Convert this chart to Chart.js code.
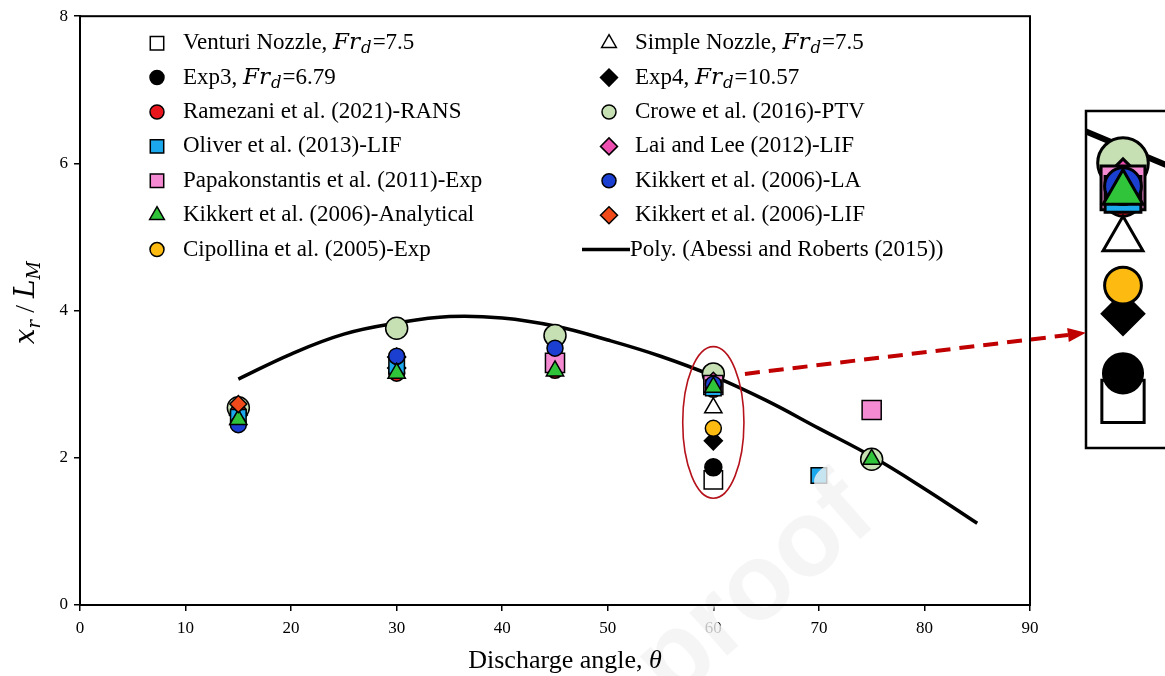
<!DOCTYPE html>
<html>
<head>
<meta charset="utf-8">
<script src="https://cdn.jsdelivr.net/npm/chart.js@4.4.1/dist/chart.umd.min.js"></script>
<style>
  html, body { margin: 0; padding: 0; background: #fff; }
  #caja { width: 1165px; height: 676px; position: relative; }
</style>
</head>
<body>
<div id="caja"><canvas id="grafica" width="1165" height="676"></canvas></div>
<script>
// valores
const xTicks = [0, 10, 20, 30, 40, 50, 60, 70, 80, 90]
const yTicks = [0, 2, 4, 6, 8]

const venturiX = [60], venturiY = [1.70]
const simpleX = [60], simpleY = [2.68]
const exp3X = [60], exp3Y = [1.87]
const exp4X = [30, 60], exp4Y = [3.37, 2.23]
const ramezaniX = [15, 30, 45, 60], ramezaniY = [2.62, 3.15, 3.19, 2.93]
const croweX = [15, 30, 45, 60, 75], croweY = [2.68, 3.76, 3.66, 3.14, 1.98]
const oliverX = [15, 30, 60, 70], oliverY = [2.55, 3.25, 2.95, 1.76]
const laiX = [15, 30, 60], laiY = [2.58, 3.22, 3.04]
const papaX = [45, 60, 75], papaY = [3.29, 2.99, 2.65]
const kikLaX = [15, 30, 45, 60], kikLaY = [2.45, 3.38, 3.49, 3.00]
const kikAnX = [15, 30, 45, 60, 75], kikAnY = [2.52, 3.15, 3.18, 2.96, 1.98]
const kikLifX = [15], kikLifY = [2.73]
const cipoX = [60], cipoY = [2.40]
const polyX = [15, 20, 25, 30, 35, 40, 45, 50, 55, 60, 65, 70, 75, 80, 85]
const polyY = [3.07, 3.41, 3.68, 3.83, 3.92, 3.90, 3.79, 3.60, 3.38, 3.11, 2.78, 2.40, 2.02, 1.58, 1.11]

const etiquetas = [
    "Venturi Nozzle, Fr_d=7.5",
    "Simple Nozzle, Fr_d=7.5",
    "Exp3, Fr_d=6.79",
    "Exp4, Fr_d=10.57",
    "Ramezani et al. (2021)-RANS",
    "Crowe et al. (2016)-PTV",
    "Oliver et al. (2013)-LIF",
    "Lai and Lee (2012)-LIF",
    "Papakonstantis et al. (2011)-Exp",
    "Kikkert et al. (2006)-LA",
    "Kikkert et al. (2006)-Analytical",
    "Kikkert et al. (2006)-LIF",
    "Cipollina et al. (2005)-Exp",
    "Poly. (Abessi and Roberts (2015))"
]

const puntos = (xs, ys) => xs.map((x, i) => ({ x: x, y: ys[i] }))

const serie = (i, xs, ys, estilo, radio, color, orden) => ({
    label: etiquetas[i],
    data: puntos(xs, ys),
    showLine: false,
    pointStyle: estilo,
    pointRadius: radio,
    pointHoverRadius: radio,
    pointBackgroundColor: color,
    pointBorderColor: "#000",
    pointBorderWidth: 1.5,
    order: orden,
    legRadio: estilo == "rect" ? 9.5 : estilo == "circle" ? 7 : 8.5
})

const datasets = [
    serie(0, venturiX, venturiY, "rect", 13, "#ffffff", 2),
    serie(1, simpleX, simpleY, "triangle", 10, "#ffffff", 6),
    serie(2, exp3X, exp3Y, "circle", 8.5, "#000000", 1),
    serie(3, exp4X, exp4Y, "rectRot", 9, "#000000", 8),
    serie(4, ramezaniX, ramezaniY, "circle", 8, "#e8161c", 12),
    serie(5, croweX, croweY, "circle", 11, "#c6e0b4", 13),
    serie(6, oliverX, oliverY, "rect", 11, "#1ca8ec", 9),
    serie(7, laiX, laiY, "rectRot", 9, "#ec4fb0", 11),
    serie(8, papaX, papaY, "rect", 13.5, "#f48ad2", 10),
    serie(9, kikLaX, kikLaY, "circle", 8, "#1b3fd0", 7),
    serie(10, kikAnX, kikAnY, "triangle", 10, "#2fc43a", 5),
    serie(11, kikLifX, kikLifY, "rectRot", 8.5, "#f04a1a", 4),
    serie(12, cipoX, cipoY, "circle", 8, "#fdbb12", 3),
    {
        label: etiquetas[13],
        data: puntos(polyX, polyY),
        showLine: true,
        borderColor: "#000",
        borderWidth: 3.5,
        pointRadius: 0,
        tension: 0.4,
        fill: false,
        order: 14
    }
]

const marca = (ctx, estilo, x, y, r) => {
    ctx.beginPath()
    if (estilo == "circle") {
        ctx.arc(x, y, r, 0, Math.PI * 2)
    } else if (estilo == "rect") {
        const s = r * Math.SQRT1_2
        ctx.rect(x - s, y - s, 2 * s, 2 * s)
    } else if (estilo == "rectRot") {
        ctx.moveTo(x, y - r); ctx.lineTo(x + r, y); ctx.lineTo(x, y + r); ctx.lineTo(x - r, y); ctx.closePath()
    } else {
        const w = r * Math.sin(2 * Math.PI / 3)
        ctx.moveTo(x, y - r); ctx.lineTo(x + w, y + r / 2); ctx.lineTo(x - w, y + r / 2); ctx.closePath()
    }
    ctx.fill()
    ctx.stroke()
}

// texto con Fr_d en cursiva y subindice
const textoRico = (ctx, texto, x, y, tam) => {
    ctx.textBaseline = "middle"
    ctx.textAlign = "left"
    const normal = `${tam}px "Liberation Serif"`
    const partes = texto.split("Fr_d")
    ctx.font = normal
    ctx.fillText(partes[0], x, y)
    if (partes.length < 2) return
    x += ctx.measureText(partes[0]).width
    ctx.font = `italic ${tam}px "DejaVu Serif"`
    ctx.fillText("Fr", x, y)
    x += ctx.measureText("Fr").width + 1
    ctx.font = `italic ${tam * 0.72}px "DejaVu Serif"`
    ctx.fillText("d", x, y + 6)
    x += ctx.measureText("d").width + 1
    ctx.font = normal
    ctx.fillText(partes[1], x, y)
}

const decorado = {
    id: "decorado",
    afterDraw(chart) {
        const ctx = chart.ctx
        const a = chart.chartArea
        const sx = chart.scales.x
        const sy = chart.scales.y
        ctx.save()

        // marca de agua
        ctx.save()
        ctx.translate(672, 704)
        ctx.rotate(-0.72)
        ctx.font = 'bold 108px "Liberation Sans"'
        ctx.fillStyle = "rgba(243,243,243,0.8)"
        ctx.fillText("proof", 0, 0)
        ctx.restore()

        // marco
        ctx.strokeStyle = "#000"
        ctx.lineWidth = 2
        ctx.strokeRect(a.left, a.top, a.right - a.left, a.bottom - a.top)

        // leyenda en dos columnas
        const colX = [a.left + 77, a.left + 529]
        datasets.forEach((d, i) => {
            const cx = colX[i % 2]
            const cy = a.top + 27 + Math.floor(i / 2) * 34.4
            ctx.fillStyle = "#000"
            if (d.showLine) {
                ctx.lineWidth = 3.5
                ctx.beginPath(); ctx.moveTo(cx - 27, cy); ctx.lineTo(cx + 21, cy); ctx.stroke()
                textoRico(ctx, d.label, cx + 21, cy, 23)
            } else {
                ctx.fillStyle = d.pointBackgroundColor
                ctx.lineWidth = 1.5
                marca(ctx, d.pointStyle, cx, cy, d.legRadio)
                ctx.fillStyle = "#000"
                textoRico(ctx, d.label, cx + 26, cy, 23)
            }
        })

        // elipse en 60 grados
        const ex = sx.getPixelForValue(60)
        const ey = sy.getPixelForValue(2.48)
        const rx = sx.getPixelForValue(62.9) - ex
        const ry = sy.getPixelForValue(1.45) - ey
        ctx.strokeStyle = "#b5121b"
        ctx.lineWidth = 1.6
        ctx.beginPath(); ctx.ellipse(ex, ey, rx, ry, 0, 0, Math.PI * 2); ctx.stroke()

        // recuadro ampliado
        const bx = a.right + 56, by = 111, bw = 100, bh = 337
        ctx.save()
        ctx.beginPath(); ctx.rect(bx, by, bw, bh); ctx.clip()
        const k = 2.25
        const ix = v => bx + 37 + (sx.getPixelForValue(v) - ex) * k
        const iy = v => by + 167 + (sy.getPixelForValue(v) - 425) * k
        ctx.strokeStyle = "#000"
        ctx.lineWidth = 6
        ctx.beginPath(); ctx.moveTo(ix(55), iy(3.38) - 26); ctx.lineTo(ix(65), iy(2.78) - 26); ctx.stroke()
        const capas = datasets.filter(d => !d.showLine).slice().sort((p, q) => q.order - p.order)
        ctx.lineWidth = 3
        capas.forEach(d => {
            d.data.filter(p => p.x == 60).forEach(p => {
                ctx.fillStyle = d.pointBackgroundColor
                marca(ctx, d.pointStyle, ix(60), iy(p.y), d.pointRadius * 2.3)
            })
        })
        ctx.restore()
        ctx.strokeStyle = "#000"
        ctx.lineWidth = 2.5
        ctx.strokeRect(bx, by, bw, bh)

        // flecha discontinua
        const x0 = ex + rx + 1, y0 = sy.getPixelForValue(3.14)
        const x1 = bx - 18, y1 = 335
        ctx.strokeStyle = "#c00000"
        ctx.fillStyle = "#c00000"
        ctx.lineWidth = 4
        ctx.setLineDash([15, 9])
        ctx.beginPath(); ctx.moveTo(x0, y0); ctx.lineTo(x1, y1); ctx.stroke()
        ctx.setLineDash([])
        const ang = Math.atan2(y1 - y0, x1 - x0)
        ctx.save()
        ctx.translate(x1, y1); ctx.rotate(ang)
        ctx.beginPath(); ctx.moveTo(18, 0); ctx.lineTo(0, -7); ctx.lineTo(0, 7); ctx.closePath(); ctx.fill()
        ctx.restore()

        // titulos de ejes
        ctx.fillStyle = "#000"
        ctx.textBaseline = "alphabetic"
        ctx.textAlign = "left"
        const t1 = "Discharge angle, "
        ctx.font = 'italic 26px "Liberation Serif"'
        const wTheta = ctx.measureText("θ").width
        ctx.font = '26px "Liberation Serif"'
        const w1 = ctx.measureText(t1).width
        let tx = 565 - (w1 + wTheta) / 2
        ctx.fillText(t1, tx, 668)
        ctx.font = 'italic 26px "Liberation Serif"'
        ctx.fillText("θ", tx + w1, 668)

        ctx.save()
        ctx.translate(34, (a.top + a.bottom) / 2 - 8)
        ctx.rotate(-Math.PI / 2)
        const trozos = [
            ["x", 'italic 28px "DejaVu Serif"', 0],
            ["r", 'italic 18px "DejaVu Serif"', 6],
            [" / ", '28px "Liberation Serif"', 0],
            ["L", 'italic 28px "DejaVu Serif"', 0],
            ["M", 'italic 18px "DejaVu Serif"', 6]
        ]
        let total = 0
        trozos.forEach(t => { ctx.font = t[1]; total += ctx.measureText(t[0]).width })
        let px = -total / 2
        trozos.forEach(t => {
            ctx.font = t[1]
            ctx.fillText(t[0], px, t[2])
            px += ctx.measureText(t[0]).width
        })
        ctx.restore()

        ctx.restore()
    }
}

const fuente = { family: "Liberation Serif", size: 17 }

const grafico = new Chart(document.querySelector("#grafica"), {
    type: "scatter",
    data: { datasets: datasets },
    options: {
        responsive: false,
        animation: false,
        layout: { padding: { top: 14, right: 135, left: 0, bottom: 0 } },
        plugins: { legend: { display: false }, tooltip: { enabled: false } },
        scales: {
            x: {
                type: "linear", min: 0, max: 90,
                afterBuildTicks: s => { s.ticks = xTicks.map(v => ({ value: v })) },
                afterFit: s => { s.height = 71 },
                ticks: { color: "#000", font: fuente, padding: 7 },
                grid: { drawOnChartArea: false, drawTicks: true, tickLength: 6, color: "#000", lineWidth: 1.5 },
                border: { color: "#000", width: 2 }
            },
            y: {
                type: "linear", min: 0, max: 8,
                afterBuildTicks: s => { s.ticks = yTicks.map(v => ({ value: v })) },
                afterFit: s => { s.width = 80 },
                ticks: { color: "#000", font: fuente, padding: 6 },
                grid: { drawOnChartArea: false, drawTicks: true, tickLength: 6, color: "#000", lineWidth: 1.5 },
                border: { color: "#000", width: 2 }
            }
        }
    },
    plugins: [decorado]
})
</script>
</body>
</html>
